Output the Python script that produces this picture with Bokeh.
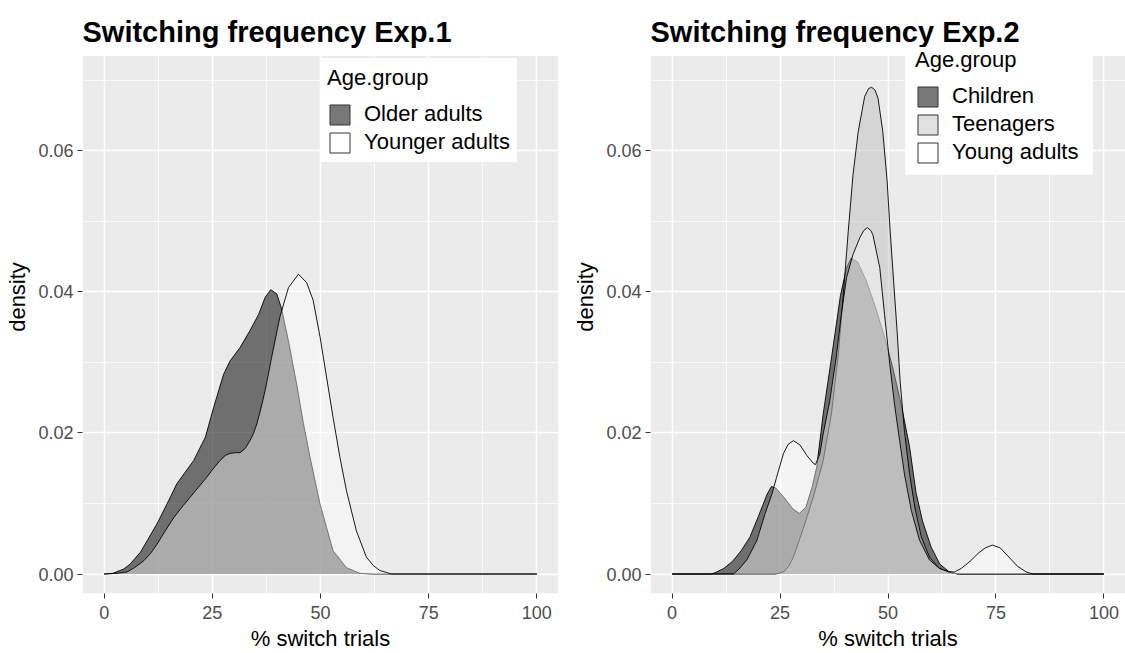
from bokeh.plotting import figure
from bokeh.layouts import row
from bokeh.models import (FixedTicker, PrintfTickFormatter, Legend, LegendItem, Range1d,
                          BoxAnnotation)
from bokeh.core.properties import value
from bokeh.embed import file_html
from bokeh.resources import INLINE

# ---------------- data ----------------
x_ticks = [0, 25, 50, 75, 100]
x_minor = [12.5, 37.5, 62.5, 87.5]
y_ticks = [0.0, 0.02, 0.04, 0.06]
y_minor = [0.01, 0.03, 0.05, 0.07]

# Experiment 1
exp1_title = "Switching frequency Exp.1"
exp1_groups = ["Older adults", "Younger adults"]
older_x = [0, 2, 4.5, 6, 8.4, 12.2, 14.5, 16.8, 20.7, 23.4, 25.3, 27.6, 29.1, 31.4, 33.7,
           35.7, 37.2, 38.5, 39.9, 41, 42.6, 44.5, 46, 47.6, 49.9, 51.4, 52.9, 56, 59.1, 62, 100]
older_d = [0, 0.0001, 0.0007, 0.0014, 0.0031, 0.0071, 0.0099, 0.0128, 0.0161, 0.0194, 0.0236,
           0.0283, 0.0302, 0.0321, 0.0345, 0.0368, 0.0392, 0.0403, 0.0397, 0.0376, 0.0330,
           0.0269, 0.0215, 0.0165, 0.0099, 0.0066, 0.0033, 0.0009, 0.0001, 0, 0]
younger_x = [0, 3, 5.3, 7, 9.2, 10.7, 12.2, 14, 16.1, 18, 19.9, 21.8, 23.7, 25.3, 26.8, 28,
             29.1, 30.3, 31.4, 32.6, 33.7, 34.5, 35.3, 36.2, 37.2, 38.7, 40.6, 42.6, 44.9,
             46.8, 48.3, 49.9, 51.4, 52.9, 54.5, 56, 58.3, 60.6, 62.2, 63.7, 66.4, 100]
younger_d = [0, 0.0001, 0.0003, 0.0009, 0.0019, 0.0029, 0.0042, 0.0060, 0.0080, 0.0095,
             0.0109, 0.0123, 0.0137, 0.0150, 0.0161, 0.0168, 0.0171, 0.0172, 0.0172, 0.0178,
             0.0189, 0.0199, 0.0213, 0.0234, 0.0260, 0.0307, 0.0364, 0.0406, 0.0425, 0.0413,
             0.0388, 0.0336, 0.0279, 0.0222, 0.0165, 0.0118, 0.0061, 0.0024, 0.0012, 0.0005,
             0, 0]

# Experiment 2
exp2_title = "Switching frequency Exp.2"
exp2_groups = ["Children", "Teenagers", "Young adults"]
children_x = [0, 9, 10, 12, 14, 16, 18, 20, 22, 23, 24, 26, 28, 29.5, 31, 32.5, 33.5, 35, 37,
              39, 40.4, 41.5, 43, 45, 47, 49, 51, 53, 55, 56.5, 58, 60, 62, 64, 66, 100]
children_d = [0, 0, 0.0002, 0.0008, 0.0018, 0.0033, 0.0052, 0.0082, 0.0113, 0.0124, 0.0122,
              0.0108, 0.0092, 0.0086, 0.0095, 0.0125, 0.0152, 0.0227, 0.031, 0.0395, 0.0434,
              0.0448, 0.0442, 0.0415, 0.038, 0.034, 0.0295, 0.0242, 0.018, 0.0115, 0.0075,
              0.0038, 0.0014, 0.0004, 0, 0]
teen_x = [0, 24, 25.8, 27, 28.1, 30.4, 32.7, 35, 36.9, 38.5, 39.6, 40.8, 41.9, 43.1, 44.6,
          45.5, 46.2, 47, 47.7, 48.8, 49.8, 50.5, 51.3, 52.1, 52.8, 53.8, 55, 56.2, 57.7,
          59.6, 61.9, 64.2, 66.5, 100]
teen_d = [0, 0, 0.0003, 0.0011, 0.0024, 0.0065, 0.0109, 0.0161, 0.0227, 0.0312, 0.0392,
          0.0486, 0.0566, 0.0627, 0.0677, 0.0688, 0.069, 0.0686, 0.0674, 0.0627, 0.0557,
          0.0486, 0.0415, 0.0345, 0.0274, 0.0203, 0.0142, 0.0095, 0.0053, 0.0024, 0.0008,
          0.0002, 0, 0]
young_x = [0, 14.2, 15.5, 17.3, 19.6, 21.5, 23.1, 24.2, 25.8, 26.9, 28.1, 29.6, 31.2, 32.7,
           33.2, 34.2, 35, 36.5, 38, 39.2, 40.4, 41.9, 43.5, 44.4, 45.2, 46, 46.5, 48.1, 49.2,
           50.4, 51.5, 52.7, 53.8, 55.4, 57.3, 59.6, 61.9, 64.2, 65.4, 67, 69, 71, 72.5, 74.2,
           76, 78, 80, 82, 83.5, 100]
young_d = [0, 0, 0.0007, 0.002, 0.0047, 0.0085, 0.0113, 0.0137, 0.0171, 0.0184, 0.0189,
           0.0183, 0.0168, 0.0157, 0.0155, 0.017, 0.0199, 0.0245, 0.0307, 0.0368, 0.042,
           0.0453, 0.0477, 0.0487, 0.0491, 0.0487, 0.0481, 0.0434, 0.0368, 0.0298, 0.0241,
           0.0189, 0.0142, 0.009, 0.0048, 0.002, 0.0008, 0.0003, 0.0003, 0.0008, 0.0018,
           0.003, 0.0037, 0.0041, 0.0037, 0.0024, 0.0011, 0.0003, 0, 0]

# ---------------- styling ----------------
FONT = "Liberation Sans"
DARK = ("#000000", 0.53)
MID = ("#B7B7B7", 0.42)
LIGHT = ("#FFFFFF", 0.42)
FIG_H = 653
BORDER_BOTTOM = 59
X_RANGE = (-5, 105)
# the frame reaches the top of the canvas; the grey ggplot panel stops at PANEL_TOP
Y_RANGE = (-0.00276, 0.08129)
PANEL_TOP = 0.07344
TITLE_Y = 0.0768    # vertical middle of the title text
# white box behind the Exp.2 legend (only the part inside the grey panel matters)
LEGEND2_BOX = dict(left=54.0, right=97.5, bottom=0.0566, top=PANEL_TOP)


def make_fig(width, border_left, border_right):
    p = figure(width=width, height=FIG_H, output_backend="svg", toolbar_location=None,
               title=None, x_range=Range1d(*X_RANGE), y_range=Range1d(*Y_RANGE),
               min_border_left=border_left, min_border_right=border_right,
               min_border_top=0, min_border_bottom=BORDER_BOTTOM)
    p.background_fill_color = "white"
    p.border_fill_color = "white"
    p.outline_line_color = None
    # grey panel background, drawn beneath the grid
    p.add_layout(BoxAnnotation(top=PANEL_TOP, fill_color="#EBEBEB", fill_alpha=1.0,
                               line_color=None, level="image"))

    p.xaxis.ticker = FixedTicker(ticks=x_ticks, minor_ticks=x_minor)
    p.yaxis.ticker = FixedTicker(ticks=y_ticks, minor_ticks=y_minor)
    p.yaxis.formatter = PrintfTickFormatter(format="%.2f")
    p.xaxis.axis_label = "% switch trials"
    p.yaxis.axis_label = "density"
    for ax in (p.xaxis, p.yaxis):
        ax.axis_line_color = None
        ax.major_tick_line_color = "#333333"
        ax.major_tick_out = 5
        ax.major_tick_in = 0
        ax.minor_tick_line_color = None
        ax.major_label_text_font = FONT
        ax.major_label_text_font_size = "18px"
        ax.major_label_text_color = "#4D4D4D"
        ax.axis_label_text_font = FONT
        ax.axis_label_text_font_size = "22px"
        ax.axis_label_text_font_style = "normal"
        ax.axis_label_text_color = "black"
    p.xaxis.major_label_standoff = 7
    p.xaxis.axis_label_standoff = 4
    p.yaxis.major_label_standoff = 4
    p.yaxis.axis_label_standoff = 5

    for g in (p.xgrid, p.ygrid):
        g.grid_line_color = "white"
        g.grid_line_width = 1.5
        g.minor_grid_line_color = "white"
        g.minor_grid_line_width = 0.75
    return p


def add_title(p, title):
    p.text(x=[X_RANGE[0]], y=[TITLE_Y], text=[title], text_font=value(FONT),
           text_font_size=value("29px"), text_font_style="bold", text_color="black",
           text_align="left", text_baseline="middle")


def add_group(p, xs, ds, style):
    color, alpha = style
    p.varea(x=xs, y1=0, y2=ds, fill_color=color, fill_alpha=alpha)
    p.line(x=xs, y=ds, line_color="black", line_width=0.9)
    # legend key only (drawn outside the visible range)
    key = p.quad(left=[-300], right=[-299], top=[-1], bottom=[-2], fill_color=color,
                 fill_alpha=alpha, line_color="#333333", line_width=1)
    return key


def add_legend(p, labels, keys, loc, pad_border):
    legend = Legend(items=[LegendItem(label=l, renderers=[k]) for l, k in zip(labels, keys)],
                    location=loc, title="Age.group")
    legend.title_text_font = FONT
    legend.title_text_font_size = "22px"
    legend.title_text_font_style = "normal"
    legend.title_text_color = "black"
    legend.title_standoff = 10
    legend.label_text_font = FONT
    legend.label_text_font_size = "22px"
    legend.label_text_color = "black"
    legend.glyph_width = 25
    legend.glyph_height = 25
    legend.label_height = 25
    legend.label_standoff = 12
    legend.spacing = 2
    legend.padding = 0
    legend.margin = 0
    if pad_border:
        # a white border gives the legend box its padding
        legend.border_line_color = "white"
        legend.border_line_width = 7
        legend.border_line_alpha = 1.0
    else:
        legend.border_line_color = None
    legend.background_fill_color = "white"
    legend.background_fill_alpha = 1.0
    p.add_layout(legend)


p1 = make_fig(565, 82, 7)
k1 = add_group(p1, older_x, older_d, DARK)
k2 = add_group(p1, younger_x, younger_d, LIGHT)
add_legend(p1, exp1_groups, [k1, k2], (238, 431), True)
add_title(p1, exp1_title)

p2 = make_fig(560, 85, 0)
c1 = add_group(p2, children_x, children_d, DARK)
c2 = add_group(p2, teen_x, teen_d, MID)
c3 = add_group(p2, young_x, young_d, LIGHT)
p2.add_layout(BoxAnnotation(fill_color="white", fill_alpha=1.0, line_color=None,
                            **LEGEND2_BOX))
add_legend(p2, exp2_groups, [c1, c2, c3], (265, 428), False)
add_title(p2, exp2_title)

layout = row(p1, p2)
open("out.html", "w").write(file_html(layout, INLINE))
